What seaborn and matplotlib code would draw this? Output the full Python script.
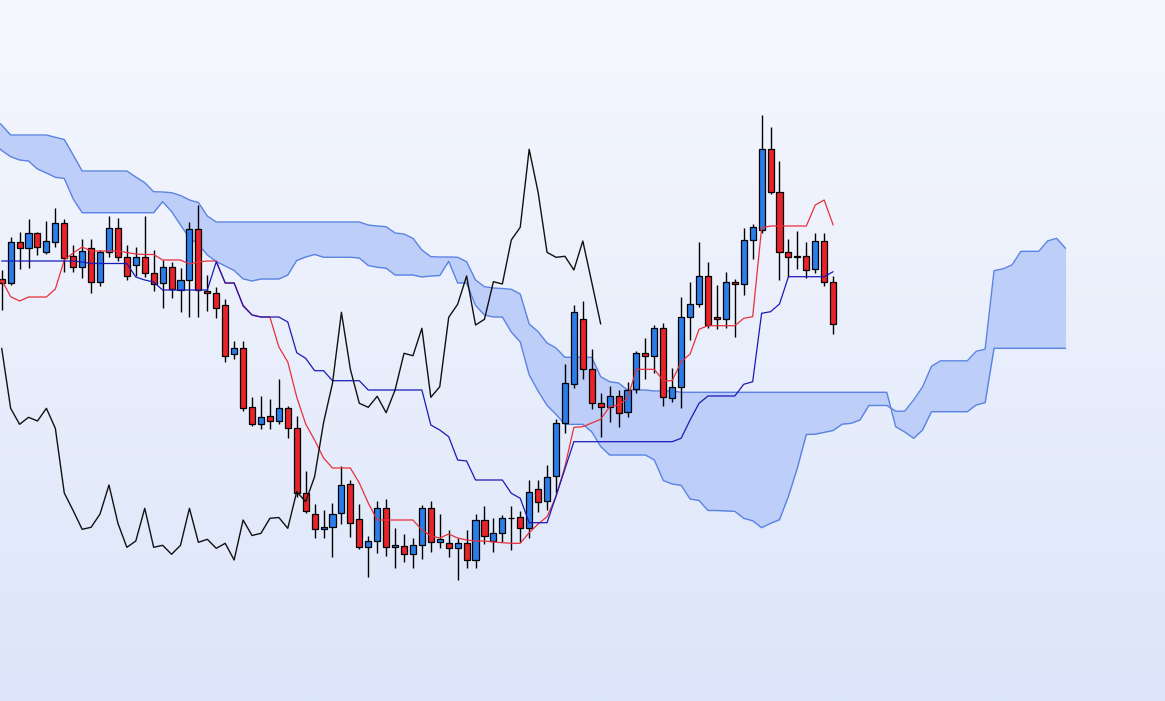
import numpy as np
import pandas as pd
import matplotlib
matplotlib.use("Agg")
import matplotlib.pyplot as plt
import seaborn as sns
from matplotlib.colors import LinearSegmentedColormap

# ---------------- data (price units) ----------------
opens = [420.7, 417.3, 458.3, 451.7, 466.7, 448.3, 458.3, 476.7, 444, 433.3,
         451.7, 417.7, 447.7, 471.7, 442.7, 435, 442.7, 426.7, 416.7, 432.7,
         410, 420, 470.7, 409, 407.5, 395, 346, 351.7, 292.7, 275.7,
         284, 279, 291.7, 271.7, 206.7, 186, 170.7, 172.7, 186.7, 215.7,
         180.7, 152.7, 159, 191.7, 152.7, 153.7, 145.7, 154.7, 191.7, 157.7,
         156.7, 151.7, 156.7, 140, 180, 159, 166.7, 181.7, 182.7, 171.7,
         210.7, 199, 224, 277.3, 315.7, 380.7, 330.7, 296.7, 292.7, 303.7,
         288.3, 310.7, 346.7, 344.3, 371.7, 301.7, 313.3, 382.7, 395.7, 424,
         383.3, 380.7, 418.3, 416, 460, 470, 550.7, 507.7, 447.7, 443.3,
         444, 430.7, 459, 417.7]
highs = [430, 463.3, 468.3, 480.7, 468.3, 479.3, 491.7, 480.7, 455, 460.7,
         460.7, 450, 484, 482.3, 455, 452.7, 484, 450, 440, 438,
         431.7, 477.7, 495, 425, 413, 401, 359, 359, 303.3, 304,
         301, 321, 294, 284, 229, 196, 190, 196.7, 234, 220,
         196, 164, 199, 200.7, 171.7, 165.7, 162.3, 195, 199, 186,
         170, 162.3, 170, 186, 194, 181.7, 185, 194, 189, 220,
         220, 235, 280.7, 336, 395, 399, 350.7, 306.7, 314, 310,
         318.3, 349.3, 361.7, 375, 377.3, 331.7, 403.3, 418.3, 458, 438.3,
         415, 428.3, 420.7, 471.7, 475.7, 585, 573.3, 539, 461, 469,
         458.3, 466.7, 466.7, 424]
lows = [390, 415, 430.7, 432.3, 445, 445.7, 453.3, 428.3, 428.3, 421.7,
        406.7, 414, 443.3, 439.3, 420, 424, 423, 409, 391.7, 401.7,
        388.3, 382.7, 383.3, 389.3, 382, 337.7, 340.7, 289.3, 274.3, 270.7,
        270.7, 276, 261.7, 203, 187.3, 161.7, 161.7, 142.7, 175.7, 162.7,
        150.7, 123.3, 147.3, 144, 131.7, 138.3, 132.3, 140.7, 148.3, 152.3,
        143.3, 120, 132.3, 132.3, 156, 148.3, 158.3, 150, 158.3, 161.7,
        188.3, 190, 206.7, 267.3, 311.7, 320.7, 290.7, 262.7, 278.3, 273.3,
        282.7, 307.3, 320.7, 326.7, 294, 298.3, 292, 360, 393.3, 371.7,
        370.7, 371.7, 363.3, 405, 440.7, 467, 505.7, 420, 423.3, 430.7,
        421.7, 427.3, 414, 366]
closes = [417.3, 458.3, 451.7, 466.7, 452.7, 459, 476.7, 442.3, 432.7, 449,
          417.7, 447.7, 471.7, 442.7, 424, 442.7, 426.7, 415.7, 432.7, 410.7,
          420, 470.7, 409.7, 406.7, 391.7, 344.3, 351.7, 291.7, 275.7, 282.7,
          279, 291.7, 271.7, 207, 189.3, 170.7, 172.7, 186, 215, 176.7,
          152.7, 159, 191.7, 152.7, 154.7, 145.7, 154.7, 191.7, 157.7, 160.7,
          151.7, 156.7, 140, 180, 164.5, 166.7, 181.7, 182.5, 171.7, 208.3,
          198.3, 223.3, 277.3, 316.7, 387.7, 330.7, 296.7, 292.7, 303.7, 287.3,
          310, 346.7, 344.3, 371.7, 302.7, 313.3, 382.7, 395.7, 424, 375,
          380.7, 418.3, 416, 460, 472.7, 550.7, 507.7, 447.7, 442.7, 443.7,
          430, 459, 417.7, 376]
tenkan = [420, 403.3, 399, 403, 403, 403, 411, 440, 447, 453,
          449, 449, 449, 449, 447.5, 446, 445.5, 445.5, 440, 440,
          440, 436, 438, 439, 439, 417, 417, 395, 385, 383,
          383, 353, 338, 303, 276, 260, 242, 232, 232, 232,
          217, 197, 180, 180, 180, 180, 180, 170, 164, 162,
          166, 162, 160, 159, 159, 158, 157.3, 156.7, 156.7, 167.3,
          176, 183.3, 203.3, 233.3, 272.7, 273.3, 277, 280.7, 293.3, 295,
          301.7, 330.7, 330.7, 330.7, 319.3, 319.3, 338.3, 346, 370.7, 374.3,
          374.3, 374.3, 374.3, 381.7, 383.3, 472, 474, 474, 474, 474,
          474, 495, 500, 475]
kijun = [439, 439, 439, 439, 439, 439, 439, 439, 439, 438,
         436.5, 436.5, 436.5, 436.5, 436.5, 423, 420, 418, 410, 410,
         410, 410, 410, 410, 438.3, 417, 417, 394, 385, 383,
         383, 383, 378, 347.3, 341.7, 329.3, 329.3, 319.3, 319.3, 319.3,
         319.3, 310, 310, 310, 310, 310, 310, 310, 275, 270,
         263.3, 240, 239, 220, 220, 220, 220, 206.7, 201.7, 177.3,
         177.3, 177.3, 204, 231, 258.3, 258.3, 258.3, 258.3, 258.3, 258.3,
         258.3, 258.3, 258.3, 258.3, 258.3, 258.3, 261.7, 280, 296.7, 304,
         304, 304, 304, 315.7, 318.3, 386.7, 388.3, 396, 423.3, 423.3,
         423.3, 423.3, 423.3, 428.3]
# leading span A before the first candle's projection (periods -1 .. 25)
span_a_early = [558, 549.5, 543.3, 540, 539, 531, 527, 522.7, 521.5, 501,
                487.3, 487.3, 487.3, 487.3, 487.3, 487.3, 487.3, 487.3, 487.3, 498.3,
                488.5, 475, 462, 456, 445, 438.5, 434]
# leading span B (periods -1 .. 119)
span_b = [582, 575, 565, 565, 565, 565, 565, 562.7, 560.5, 545,
          529, 529, 529, 529, 529, 529, 523, 517.3, 508.3, 508,
          507.3, 504.5, 500, 497.5, 484, 478, 478, 478, 478, 478,
          478, 478, 478, 478, 478, 478, 478, 478, 478, 478,
          478, 478, 475, 474, 473.3, 467, 466, 461.7, 450, 443.3,
          443, 443, 442.7, 438.3, 420, 413.3, 412, 411.5, 410.7, 406,
          376, 368.3, 357, 352, 342.7, 342.7, 342.7, 342.7, 323.3, 318.3,
          317, 310, 310, 310, 309, 309, 309, 307.7, 307.7, 307.7,
          307.7, 307.7, 307.7, 307.7, 307.7, 307.7, 307.7, 307.7, 307.7, 307.7,
          307.7, 307.7, 307.7, 307.7, 307.7, 307.7, 307.7, 307.7, 307.7, 307.7,
          307.7, 273.3, 268, 261.7, 270, 288.3, 288.3, 288.3, 288.3, 288.3,
          295, 297.3, 351.7, 351.7, 351.7, 351.7, 351.7, 351.7, 351.7, 351.7,
          351.7]
SHIFT = 26

# ---------------- build frames ----------------
n = len(closes)
idx = np.arange(n)
df = pd.DataFrame({"i": idx, "open": opens, "high": highs, "low": lows,
                   "close": closes, "tenkan": tenkan, "kijun": kijun})
df["up"] = df["close"] >= df["open"]

span_x = np.arange(-1, n + SHIFT)
span_a = np.concatenate([np.array(span_a_early),
                         (df["tenkan"].values + df["kijun"].values) / 2.0])
cloud = pd.DataFrame({"i": span_x, "a": span_a, "b": np.array(span_b)})
chikou = pd.DataFrame({"i": idx[SHIFT:] - SHIFT, "close": df["close"].values[SHIFT:]})

# ---------------- draw ----------------
sns.set_theme(style="white")
fig = plt.figure(figsize=(11.65, 7.01), dpi=100)
ax = fig.add_axes([0, 0, 1, 1])
xmin, xmax = -0.19, 130.12
ymin, ymax = -1, 700
ax.set_xlim(xmin, xmax)
ax.set_ylim(ymin, ymax)

bg = LinearSegmentedColormap.from_list("bg", ["#dce5f9", "#f6f8fe"])
grad = np.linspace(0, 1, 256).reshape(-1, 1)
ax.imshow(grad, extent=[xmin, xmax, ymin, ymax], origin="lower",
          aspect="auto", cmap=bg, zorder=0)

cloud_edge = "#5a83e2"
ax.fill_between(cloud["i"], cloud["a"], cloud["b"], color="#bdcff9", lw=0, zorder=1)
sns.lineplot(data=cloud, x="i", y="a", ax=ax, color=cloud_edge, lw=1.0,
             estimator=None, sort=False, legend=False, zorder=2)
sns.lineplot(data=cloud, x="i", y="b", ax=ax, color=cloud_edge, lw=1.0,
             estimator=None, sort=False, legend=False, zorder=2)

# candles
ax.vlines(df["i"], df["low"], df["high"], color="black", lw=1.0, zorder=3)
colors = np.where(df["up"], "#2b7de9", "#e8232a")
ax.bar(df["i"], df["close"] - df["open"], bottom=df["open"], width=0.68,
       color=colors, edgecolor="black", linewidth=0.9, zorder=4)

# indicator lines
sns.lineplot(data=df, x="i", y="tenkan", ax=ax, color="#e8303a", lw=0.9,
             estimator=None, sort=False, legend=False, zorder=5)
sns.lineplot(data=df, x="i", y="kijun", ax=ax, color="#1a1ab8", lw=0.9,
             estimator=None, sort=False, legend=False, zorder=5)
sns.lineplot(data=chikou, x="i", y="close", ax=ax, color="#111111", lw=1.0,
             estimator=None, sort=False, legend=False, zorder=5)

ax.set_xlim(xmin, xmax)
ax.set_ylim(ymin, ymax)
ax.set_axis_off()
fig.savefig("out.png", dpi=100)
